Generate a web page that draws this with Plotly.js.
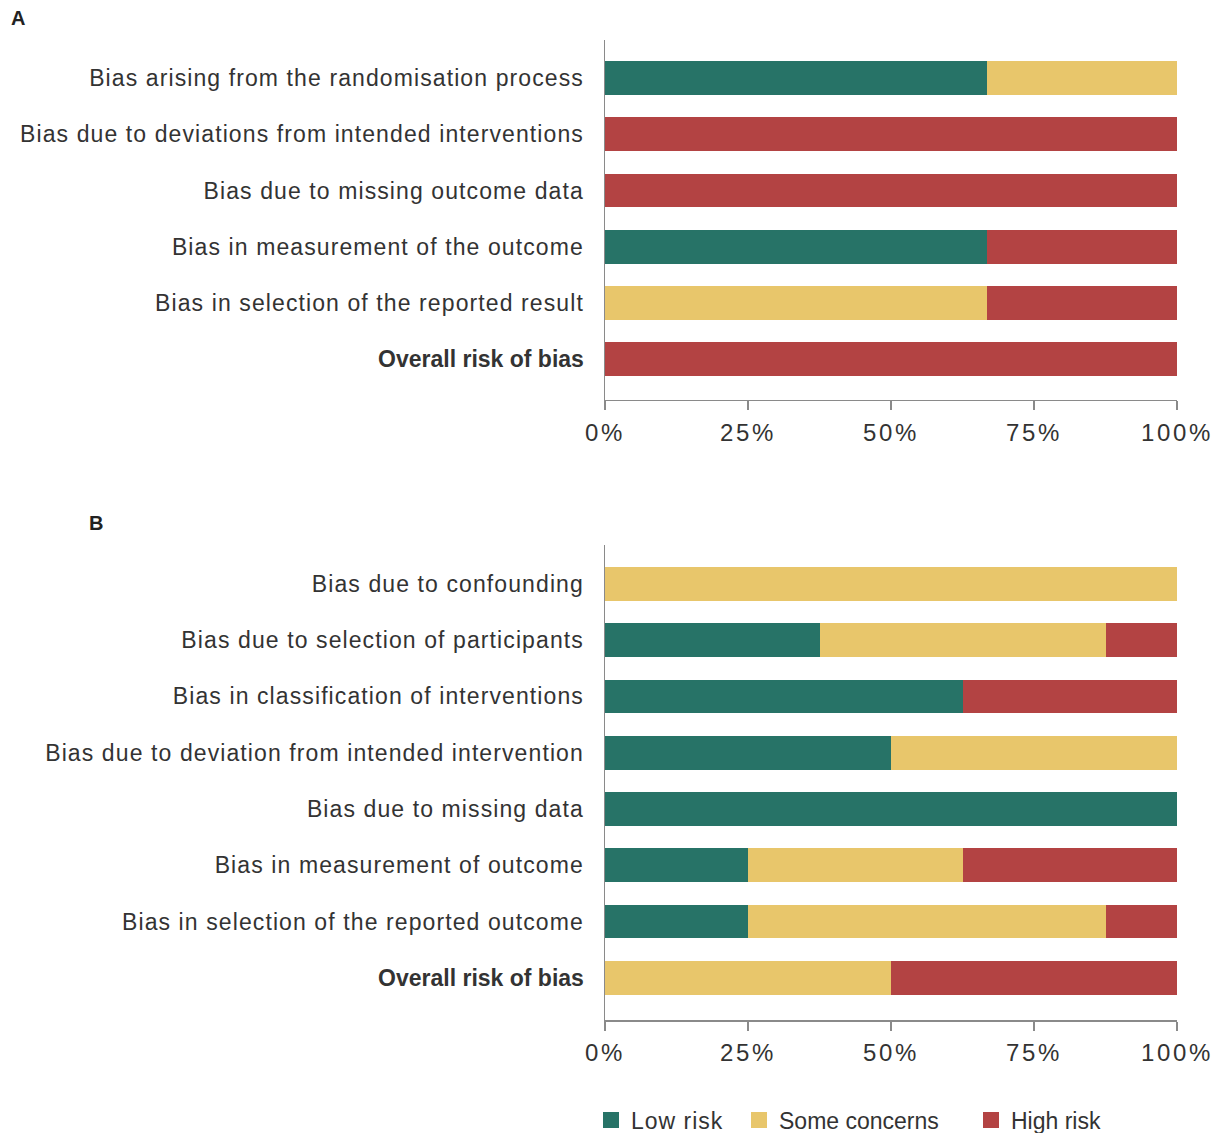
<!DOCTYPE html>
<html><head><meta charset="utf-8">
<script src="https://cdn.plot.ly/plotly-3.0.1.min.js"></script>
<style>
html,body{margin:0;padding:0;background:#fff}
.ytick text, .y2tick text { letter-spacing: 1.1px; }
.xtick text, .x2tick text { letter-spacing: 2.6px; }
.legendtext { letter-spacing: 1px; }
</style>
</head><body><div id="chart" style="width:1223px;height:1133px"></div>
<script>
// Panel A (RoB 2, randomised trials) — percent of studies
const catsA = [
  "Bias arising from the randomisation process",
  "Bias due to deviations from intended interventions",
  "Bias due to missing outcome data",
  "Bias in measurement of the outcome",
  "Bias in selection of the reported result",
  "Overall risk of bias"
];
const lowA  = [66.7, 0, 0, 66.7, 0, 0];
const someA = [33.3, 0, 0, 0, 66.7, 0];
const highA = [0, 100, 100, 33.3, 33.3, 100];

// Panel B (ROBINS-I, non-randomised studies)
const catsB = [
  "Bias due to confounding",
  "Bias due to selection of participants",
  "Bias in classification of interventions",
  "Bias due to deviation from intended intervention",
  "Bias due to missing data",
  "Bias in measurement of outcome",
  "Bias in selection of the reported outcome",
  "Overall risk of bias"
];
const lowB  = [0, 37.5, 62.5, 50, 100, 25, 25, 0];
const someB = [100, 50, 0, 50, 0, 37.5, 62.5, 50];
const highB = [0, 12.5, 37.5, 0, 0, 37.5, 12.5, 50];

const seriesNames = ["Low risk", "Some concerns", "High risk"];
const colors = ["#277367", "#E8C66B", "#B34343"];
const xTicks = [0, 25, 50, 75, 100];
const xTickText = ["0%", "25%", "50%", "75%", "100%"];

const font = "Liberation Sans, Arial, sans-serif";
const txt = "#333333";

const traces = [];
[[lowA, someA, highA], [lowB, someB, highB]].forEach((set, p) => {
  const cats = p === 0 ? catsA : catsB;
  set.forEach((vals, i) => {
    traces.push({
      type: "bar", orientation: "h",
      x: vals, y: cats,
      name: seriesNames[i],
      marker: {color: colors[i], line: {width: 0}},
      width: 0.6,
      xaxis: p === 0 ? "x" : "x2",
      yaxis: p === 0 ? "y" : "y2",
      showlegend: false,
      legendgroup: seriesNames[i],
      hoverinfo: "skip"
    });
  });
});
// legend entries (square swatches), one legend box per entry
const legendIds = ["legend", "legend2", "legend3"];
seriesNames.forEach((n, i) => {
  traces.push({
    type: "scatter", mode: "markers", x: [null], y: [null],
    xaxis: "x2", yaxis: "y2", name: n, legendgroup: n, legend: legendIds[i],
    marker: {symbol: "square", size: 17, color: colors[i]},
    showlegend: true, hoverinfo: "skip"
  });
});

function ticktext(cats) {
  return cats.map(c => c === "Overall risk of bias"
    ? '<span style="letter-spacing:0px"><b>' + c + '</b></span>' : c);
}

const xCommon = {
  range: [0, 100], tickvals: xTicks, ticktext: xTickText,
  showline: true, linecolor: "#8a8a8a", linewidth: 1.5,
  ticks: "outside", ticklen: 9, tickcolor: "#8a8a8a", tickwidth: 1.5,
  showgrid: false, zeroline: false, ticklabelstandoff: 2,
  tickfont: {family: font, size: 24, color: txt}, fixedrange: true
};
const yCommon = {
  type: "category", showline: true, linecolor: "#8a8a8a", linewidth: 1.5,
  ticks: "", showgrid: false, zeroline: false, ticklabelstandoff: 15,
  tickfont: {family: font, size: 23, color: txt}, fixedrange: true
};

function legendAt(px) {
  return {
    orientation: "h", x: (px - 605) / 572, xanchor: "left", y: -0.102, yanchor: "middle",
    font: {family: font, size: 23, color: txt},
    itemclick: false, itemdoubleclick: false, bgcolor: "rgba(0,0,0,0)"
  };
}

const layout = {
  width: 1223, height: 1133,
  margin: {l: 605, r: 46, t: 40, b: 113, autoexpand: false},
  paper_bgcolor: "#fff", plot_bgcolor: "#fff",
  barmode: "stack", bargap: 0.4,
  xaxis: Object.assign({}, xCommon, {anchor: "y", domain: [0, 1]}),
  xaxis2: Object.assign({}, xCommon, {anchor: "y2", domain: [0, 1]}),
  yaxis: Object.assign({}, yCommon, {
    anchor: "x", domain: [0.6327, 1],
    categoryarray: catsA, tickvals: catsA, ticktext: ticktext(catsA),
    range: [catsA.length - 1 + 0.73, -0.68]
  }),
  yaxis2: Object.assign({}, yCommon, {
    anchor: "x2", domain: [0, 0.4847],
    categoryarray: catsB, tickvals: catsB, ticktext: ticktext(catsB),
    range: [catsB.length - 1 + 0.75, -0.69]
  }),
  showlegend: true,
  legend: legendAt(591),
  legend2: legendAt(739),
  legend3: legendAt(971),
  annotations: [
    {text: "<b>A</b>", xref: "paper", yref: "paper", x: (9 - 605) / 572, y: (1020 - 18) / 980,
     xanchor: "left", yanchor: "middle", showarrow: false, font: {family: font, size: 20, color: "#222"}},
    {text: "<b>B</b>", xref: "paper", yref: "paper", x: (87 - 605) / 572, y: (1020 - 523) / 980,
     xanchor: "left", yanchor: "middle", showarrow: false, font: {family: font, size: 20, color: "#222"}}
  ]
};

Plotly.newPlot("chart", traces, layout, {displayModeBar: false, staticPlot: true});
</script></body></html>
